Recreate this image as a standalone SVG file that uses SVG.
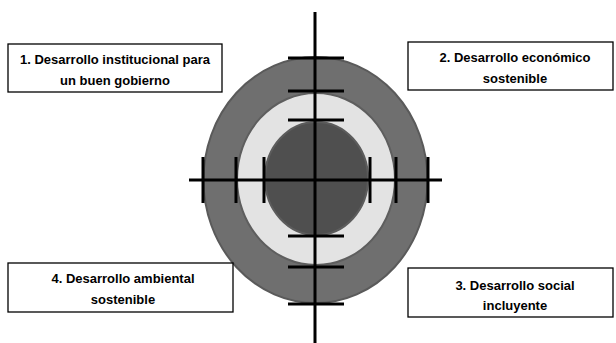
<svg xmlns="http://www.w3.org/2000/svg" width="616" height="343" viewBox="0 0 616 343">
<style>
.box{fill:#fff;stroke:#000;stroke-width:1.3}
.t{font-family:"Liberation Sans",Arial,sans-serif;font-weight:bold;font-size:13px;fill:#000;text-anchor:middle}
.ax{stroke:#000;stroke-width:3;fill:none}
</style>
<rect width="616" height="343" fill="#fff"/>
<g id="target">
<ellipse cx="315.5" cy="180" rx="112" ry="123" fill="#6f6f6f" stroke="#5a5a5a" stroke-width="2"/>
<ellipse cx="316" cy="179" rx="79" ry="86" fill="#e3e3e3" stroke="#5e5e5e" stroke-width="2"/>
<ellipse cx="316.5" cy="178.5" rx="51.5" ry="56.5" fill="#4f4f4f" stroke="#5c5c5c" stroke-width="2"/>
</g>
<g id="connectors" class="ax">
<line x1="315" y1="12" x2="315" y2="343"/>
<line x1="189" y1="180" x2="442" y2="180"/>
<line x1="288" y1="58" x2="344" y2="58"/>
<line x1="288" y1="91" x2="344" y2="91"/>
<line x1="288" y1="120" x2="344" y2="120"/>
<line x1="288" y1="236" x2="344" y2="236"/>
<line x1="288" y1="267" x2="344" y2="267"/>
<line x1="288" y1="304" x2="344" y2="304"/>
<line x1="203" y1="157" x2="203" y2="203"/>
<line x1="236" y1="157" x2="236" y2="203"/>
<line x1="264" y1="157" x2="264" y2="203"/>
<line x1="370" y1="157" x2="370" y2="203"/>
<line x1="396" y1="157" x2="396" y2="203"/>
<line x1="428" y1="157" x2="428" y2="203"/>
</g>
<g id="n1">
<rect class="box" x="8" y="44" width="214" height="48"/>
<text class="t" x="115" y="64">1. Desarrollo institucional para</text>
<text class="t" x="115" y="85">un buen gobierno</text>
</g>
<g id="n2">
<rect class="box" x="408" y="42" width="205" height="48"/>
<text class="t" x="515" y="62">2. Desarrollo económico</text>
<text class="t" x="515" y="83">sostenible</text>
</g>
<g id="n3">
<rect class="box" x="408" y="268" width="205" height="49"/>
<text class="t" x="515" y="290">3. Desarrollo social</text>
<text class="t" x="515" y="310">incluyente</text>
</g>
<g id="n4">
<rect class="box" x="8" y="263" width="225" height="49"/>
<text class="t" x="123" y="283">4. Desarrollo ambiental</text>
<text class="t" x="123" y="304">sostenible</text>
</g>
</svg>
